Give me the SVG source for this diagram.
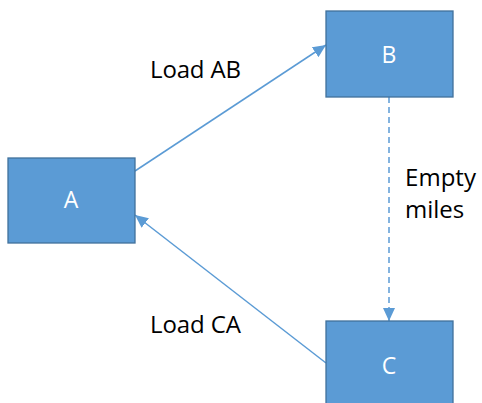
<svg xmlns="http://www.w3.org/2000/svg" width="482" height="403" viewBox="0 0 482 403">
<style>
.box{fill:#5B9BD5;stroke:#41719C;stroke-width:1.3}
.lbl{font-family:"Open Sans","Liberation Sans",sans-serif;font-size:23px;fill:#FFFFFF;text-anchor:middle}
.txt{font-family:"Open Sans","Liberation Sans",sans-serif;font-size:24px;fill:#000000}
.con{stroke:#5B9BD5;stroke-width:1.5;fill:none}
.dash{stroke-dasharray:6 4}
</style>
<defs>
<marker id="arr" markerUnits="userSpaceOnUse" markerWidth="14" markerHeight="12" refX="13" refY="6" orient="auto">
<path d="M0,0 L13,6 L0,12 z" fill="#5B9BD5"/>
</marker>
</defs>
<rect width="482" height="403" fill="#FFFFFF"/>
<g id="connectors">
<line class="con" x1="135" y1="171" x2="326" y2="45" marker-end="url(#arr)"/>
<line class="con" x1="326" y1="363" x2="135" y2="215" marker-end="url(#arr)"/>
<line class="con dash" x1="389" y1="97" x2="389" y2="321" marker-end="url(#arr)"/>
</g>
<g id="node-A">
<rect class="box" x="8" y="158" width="127" height="85"/>
<text class="lbl" x="71" y="208">A</text>
</g>
<g id="node-B">
<rect class="box" x="326" y="11" width="127" height="86"/>
<text class="lbl" x="389" y="63">B</text>
</g>
<g id="node-C">
<rect class="box" x="326" y="321" width="127" height="90"/>
<text class="lbl" x="389" y="374">C</text>
</g>
<g id="labels">
<text class="txt" x="150" y="78" textLength="91">Load AB</text>
<text class="txt" x="150" y="333" textLength="91">Load CA</text>
<text class="txt" x="405" y="186" textLength="71">Empty</text>
<text class="txt" x="405" y="218">miles</text>
</g>
</svg>
